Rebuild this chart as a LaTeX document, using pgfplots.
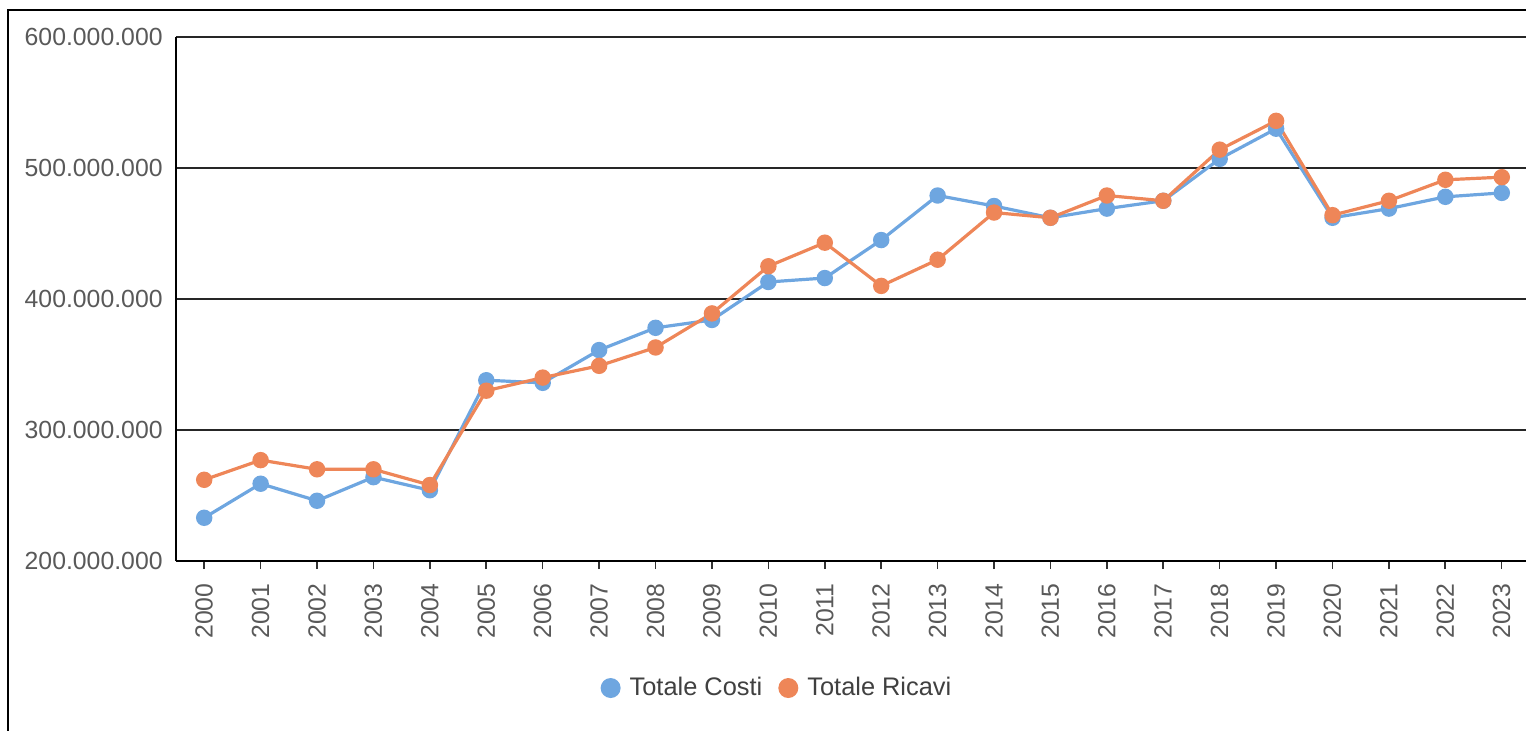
\documentclass[border=0pt]{standalone}
\usepackage{pgfplots}
\pgfplotsset{compat=1.18}
\usepackage{fontspec}
\setmainfont{Liberation Sans}
\definecolor{cblue}{RGB}{110,166,224}
\definecolor{corange}{RGB}{238,134,88}
\definecolor{lblgray}{RGB}{89,89,89}
\pgfplotstableread{
year costi ricavi
2000 233 262
2001 259 277
2002 246 270
2003 264 270
2004 254 258
2005 338 330
2006 336 340
2007 361 349
2008 378 363
2009 384 389
2010 413 425
2011 416 443
2012 445 410
2013 479 430
2014 471 466
2015 462 462
2016 469 479
2017 475 475
2018 507 514
2019 530 536
2020 462 464
2021 469 475
2022 478 491
2023 481 493
}\datatable
\begin{document}
\begin{tikzpicture}
\path[use as bounding box, clip] (0,0) rectangle (763pt,365pt);
\draw[line width=1pt, black] (4pt,-5pt) -- (4pt,360pt) -- (780pt,360pt);
\begin{axis}[
  at={(88pt,84.5pt)}, anchor=south west,
  scale only axis, width=677pt, height=262pt,
  xmin=1999.5, xmax=2023.5, ymin=200, ymax=600,
  axis x line=bottom, axis y line=left,
  axis line style={black, line width=0.9pt, -},
  xtick={2000,...,2023},
  ytick={200,300,400,500,600},
  yticklabels={200.000.000,300.000.000,400.000.000,500.000.000,600.000.000},
  /pgf/number format/assume math mode=true,
  xticklabel style={/pgf/number format/1000 sep={}, rotate=90, anchor=east, inner sep=0pt, font=\fontsize{12.4}{14}\selectfont, text=lblgray},
  xticklabel shift=7pt,
  yticklabel style={anchor=east, inner sep=0pt, xshift=-4.5pt, font=\fontsize{12.4}{14}\selectfont, text=lblgray},
  xtick align=outside, major tick length=4pt,
  xtick style={black!80, line width=0.8pt},
  ytick style={draw=none},
  ymajorgrids, grid style={black!85, line width=0.9pt},
  legend columns=2,
  legend style={at={(0.4446,-0.2424)}, anchor=center, draw=none, fill=none,
    font=\fontsize{12.7}{14}\selectfont, text=black!75,
    /tikz/every even column/.append style={column sep=6pt}},
  legend image code/.code={\fill[#1, draw=none] (0pt,0pt) circle (5pt); \path[draw=none, fill=none] (-5pt,0pt) rectangle (7.5pt,0.1pt);},
  clip=false,
]
\addplot[cblue, line width=1.6pt, mark=*, mark size=3.3pt, mark options={fill=cblue, draw=cblue}] table[x=year, y=costi] {\datatable};
\addlegendentry{Totale Costi}
\addplot[corange, line width=1.6pt, mark=*, mark size=3.3pt, mark options={fill=corange, draw=corange}] table[x=year, y=ricavi] {\datatable};
\addlegendentry{Totale Ricavi}
\end{axis}
\end{tikzpicture}
\end{document}
